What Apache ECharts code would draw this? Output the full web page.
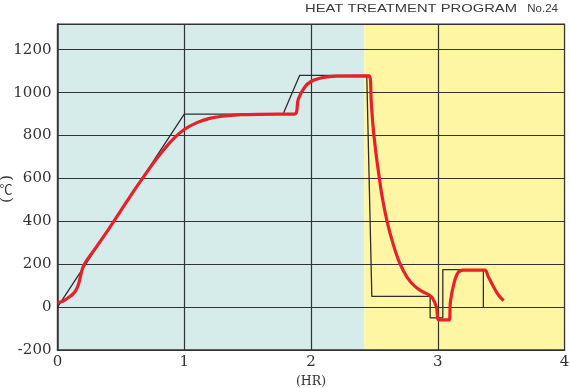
<!DOCTYPE html>
<html>
<head>
<meta charset="utf-8">
<script src="https://cdn.jsdelivr.net/npm/echarts@6/dist/echarts.min.js"></script>
<style>html,body{margin:0;padding:0;background:#fff}#c{width:570px;height:388px}</style>
</head>
<body>
<div id="c"></div>
<script>
// x in hours, y in ℃
const programLine = [[0,0],[1,900],[1.78,900],[1.91,1080],[2.44,1080],[2.48,50],[2.94,50],[2.94,-50],[3.04,-50],[3.04,175],[3.36,175],[3.36,0]];
const actualCurve = [[0,20],[0.03,25],[0.06,34],[0.09,46],[0.12,60],[0.145,78],[0.165,105],[0.18,140],[0.195,176],[0.21,198],[0.24,226],[0.3,275],[0.4,360],[0.5,450],[0.6,540],[0.7,625],[0.78,690],[0.85,742],[0.92,788],[1.0,828],[1.1,860],[1.2,880],[1.3,890],[1.45,897],[1.6,899],[1.87,900],[1.9,970],[1.95,1025],[2.0,1052],[2.1,1071],[2.2,1077],[2.46,1078],[2.475,960],[2.49,840],[2.51,730],[2.53,640],[2.56,520],[2.6,400],[2.65,290],[2.7,205],[2.76,138],[2.82,97],[2.88,72],[2.93,57],[2.96,40],[2.99,0],[3.01,-60],[3.09,-60],[3.1,25],[3.13,115],[3.16,160],[3.2,172],[3.37,172],[3.4,140],[3.44,95],[3.48,55],[3.52,30]];
const coolingStart = 2.42;
const xMin = 0, xMax = 4, yMin = -200, yMax = 1320;
const titleText = 'HEAT TREATMENT PROGRAM';
const numberText = 'No.24';

// stretch title to the reference's wide letterforms
const mc = document.createElement('canvas').getContext('2d');
mc.font = '11px "Liberation Sans"';
const titleScale = 212 / mc.measureText(titleText).width;

const chart = echarts.init(document.getElementById('c'), null, {renderer:'canvas'});
chart.setOption({
  animation: false,
  grid: {left: 57.5, right: 5.5, top: 24, bottom: 38, outerBoundsMode: 'none', containLabel: false,
         show: true, borderColor: '#333', borderWidth: 1.2, backgroundColor: 'transparent'},
  xAxis: {
    type: 'value', min: xMin, max: xMax, interval: 1, z: 1,
    name: '(HR)', nameLocation: 'middle', nameGap: 23,
    nameTextStyle: {fontFamily: 'DejaVu Serif', fontSize: 12.5, color: '#333'},
    axisLine: {show: true, onZero: false, lineStyle: {color: '#333', width: 1.5}},
    axisTick: {show: false},
    axisLabel: {fontFamily: 'DejaVu Serif', fontSize: 15, color: '#333', margin: 5},
    splitLine: {show: true, lineStyle: {color: '#333', width: 1.2}}
  },
  yAxis: {
    type: 'value', min: yMin, max: yMax, interval: 200, z: 1,
    axisLine: {show: true, onZero: false, lineStyle: {color: '#333', width: 1.5}},
    axisTick: {show: false},
    axisLabel: {fontFamily: 'DejaVu Serif', fontSize: 15, color: '#333', margin: 6,
      formatter: v => (v % 200 === 0 ? String(v) : '')},
    splitLine: {show: true, lineStyle: {color: '#333', width: 1.2}}
  },
  graphic: [
    {type: 'text', x: 305, y: 9, scaleX: titleScale, style: {text: titleText, fontFamily: 'Liberation Sans', fontSize: 11, fill: '#3a3a3a', align: 'left', verticalAlign: 'middle'}},
    {type: 'text', x: 558, y: 9, style: {text: numberText, fontFamily: 'Liberation Sans', fontSize: 11.5, fill: '#3a3a3a', align: 'right', verticalAlign: 'middle'}},
    {type: 'text', x: 6, y: 178, rotation: -Math.PI/2, style: {text: '(', fontFamily: 'DejaVu Serif', fontSize: 15, fill: '#333', align: 'center', verticalAlign: 'middle'}},
    {type: 'text', x: 6, y: 189, style: {text: '℃', fontFamily: 'Noto Sans CJK SC', fontSize: 13, fill: '#333', align: 'center', verticalAlign: 'middle'}},
    {type: 'text', x: 6, y: 200, rotation: -Math.PI/2, style: {text: ')', fontFamily: 'DejaVu Serif', fontSize: 15, fill: '#333', align: 'center', verticalAlign: 'middle'}}
  ],
  series: [
    {
      type: 'line', data: [], z: 0, silent: true,
      markArea: {
        silent: true, z: 0,
        data: [
          [{xAxis: xMin, yAxis: yMin, itemStyle: {color: '#d6ecea'}}, {xAxis: coolingStart, yAxis: yMax}],
          [{xAxis: coolingStart, yAxis: yMin, itemStyle: {color: '#fff6a3'}}, {xAxis: xMax, yAxis: yMax}]
        ]
      }
    },
    {
      type: 'line', data: programLine, z: 3, symbol: 'none',
      lineStyle: {color: '#2e2e2e', width: 1.3}
    },
    {
      type: 'line', data: actualCurve, z: 4, symbol: 'none', smooth: 0.35,
      lineStyle: {color: '#e8202a', width: 3.2}
    }
  ]
});
</script>
</body>
</html>
